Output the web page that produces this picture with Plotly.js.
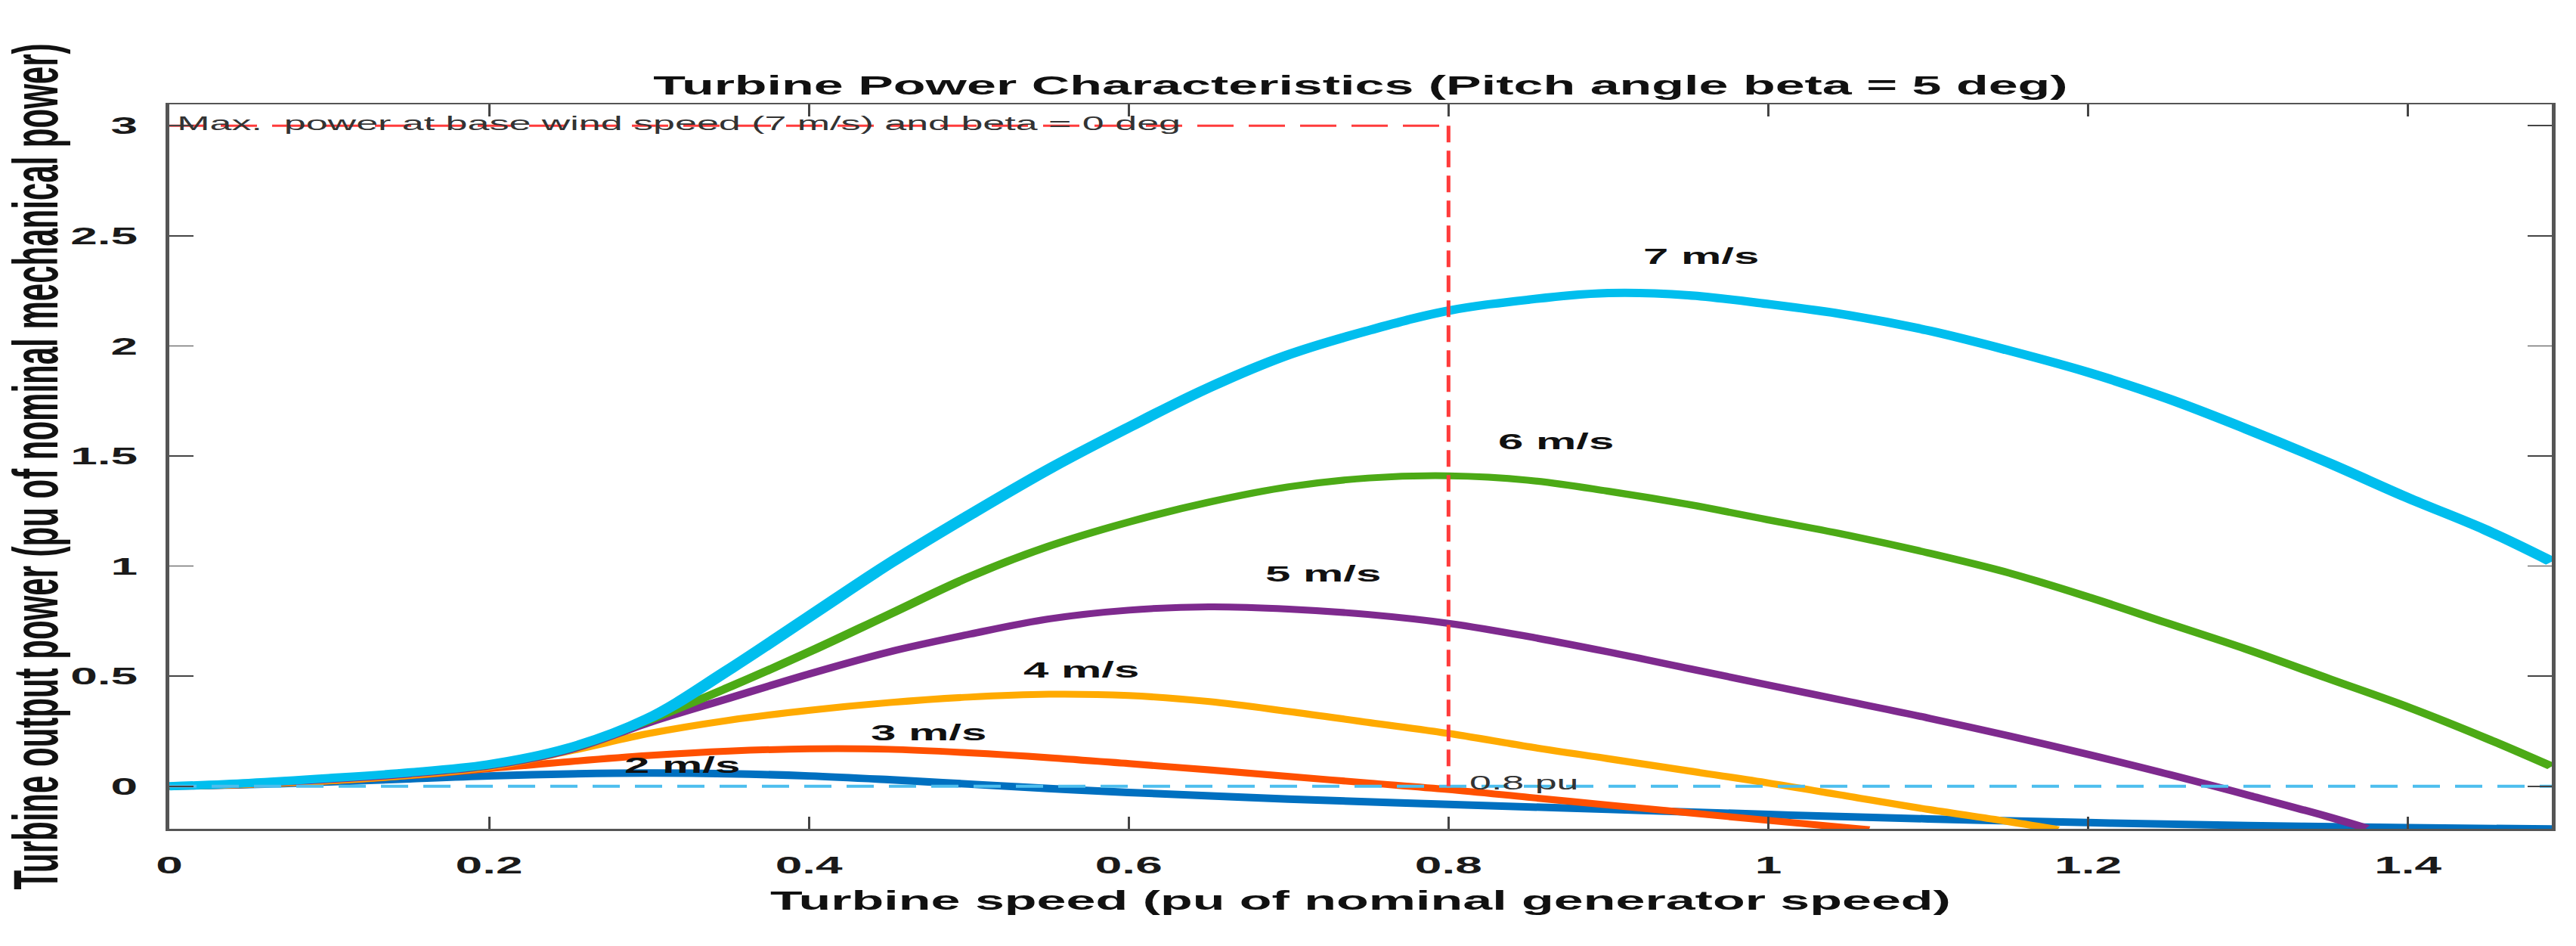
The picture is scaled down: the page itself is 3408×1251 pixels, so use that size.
<!DOCTYPE html>
<html>
<head>
<meta charset="utf-8">
<script src="https://cdn.plot.ly/plotly-3.0.1.min.js"></script>
<style>
  html, body { margin: 0; padding: 0; background: #ffffff; overflow: hidden; }
  #wrap { width: 3408px; height: 1251px; overflow: hidden; }
  /* The reference figure is stretched 2x horizontally; reproduce that by drawing at half width and scaling */
  #chart { width: 1704px; height: 1251px; transform: scaleX(2); transform-origin: 0 0; }
</style>
</head>
<body>
<div id="wrap"><div id="chart"></div></div>
<script>
// ---- Data ----
const windLabels = ['2 m/s', '3 m/s', '4 m/s', '5 m/s', '6 m/s', '7 m/s'];

const speed2 = [0, 0.05, 0.1, 0.15, 0.2, 0.25, 0.3, 0.35, 0.4, 0.45, 0.5, 0.55, 0.6, 0.7, 0.8, 0.9, 1.0, 1.1, 1.2, 1.3, 1.4, 1.49];
const power2 = [0, 0.008, 0.02, 0.034, 0.047, 0.056, 0.06, 0.057, 0.047, 0.03, 0.01, -0.01, -0.028, -0.058, -0.082, -0.105, -0.128, -0.148, -0.165, -0.178, -0.188, -0.194];

const speed3 = [0, 0.05, 0.1, 0.15, 0.2, 0.25, 0.3, 0.35, 0.4, 0.45, 0.5, 0.55, 0.6, 0.65, 0.7, 0.75, 0.8, 0.85, 0.9, 0.95, 1.0, 1.063];
const power3 = [0, 0.008, 0.024, 0.048, 0.08, 0.112, 0.14, 0.16, 0.17, 0.168, 0.152, 0.13, 0.103, 0.075, 0.045, 0.015, -0.015, -0.05, -0.085, -0.12, -0.155, -0.197];

const speed4 = [0, 0.05, 0.1, 0.15, 0.2, 0.25, 0.3, 0.35, 0.4, 0.45, 0.5, 0.55, 0.6, 0.65, 0.7, 0.75, 0.8, 0.85, 0.9, 0.95, 1.0, 1.05, 1.1, 1.15, 1.181];
const power4 = [0, 0.01, 0.025, 0.05, 0.088, 0.16, 0.24, 0.3, 0.345, 0.38, 0.405, 0.418, 0.412, 0.385, 0.34, 0.29, 0.24, 0.18, 0.125, 0.07, 0.015, -0.045, -0.105, -0.16, -0.197];

const speed5 = [0, 0.05, 0.1, 0.15, 0.2, 0.25, 0.3, 0.35, 0.4, 0.45, 0.5, 0.55, 0.6, 0.65, 0.7, 0.75, 0.8, 0.85, 0.9, 0.95, 1.0, 1.05, 1.1, 1.15, 1.2, 1.25, 1.3, 1.35, 1.374];
const power5 = [0, 0.012, 0.03, 0.055, 0.092, 0.165, 0.29, 0.4, 0.51, 0.61, 0.69, 0.76, 0.8, 0.815, 0.805, 0.78, 0.74, 0.68, 0.61, 0.535, 0.46, 0.385, 0.31, 0.23, 0.145, 0.055, -0.04, -0.138, -0.19];

const speed6 = [0, 0.05, 0.1, 0.15, 0.2, 0.25, 0.3, 0.35, 0.4, 0.45, 0.5, 0.55, 0.6, 0.65, 0.7, 0.75, 0.8, 0.85, 0.9, 0.95, 1.0, 1.05, 1.1, 1.15, 1.2, 1.25, 1.3, 1.35, 1.4, 1.45, 1.49];
const power6 = [0, 0.014, 0.034, 0.06, 0.096, 0.17, 0.3, 0.45, 0.61, 0.78, 0.95, 1.09, 1.2, 1.29, 1.36, 1.4, 1.41, 1.39, 1.34, 1.28, 1.21, 1.14, 1.06, 0.97, 0.86, 0.74, 0.62, 0.49, 0.36, 0.215, 0.09];

const speed7 = [0, 0.05, 0.1, 0.15, 0.2, 0.25, 0.3, 0.35, 0.4, 0.45, 0.5, 0.55, 0.6, 0.65, 0.7, 0.75, 0.8, 0.85, 0.9, 0.95, 1.0, 1.05, 1.1, 1.15, 1.2, 1.25, 1.3, 1.35, 1.4, 1.45, 1.49];
const power7 = [0, 0.015, 0.037, 0.063, 0.1, 0.175, 0.31, 0.53, 0.77, 1.01, 1.23, 1.44, 1.63, 1.81, 1.96, 2.07, 2.16, 2.21, 2.24, 2.23, 2.19, 2.14, 2.07, 1.98, 1.88, 1.76, 1.62, 1.47, 1.31, 1.16, 1.02];

// reference lines
const maxPowerX = [0, 0.8];
const maxPowerY = [3, 3];
const baseSpeedX = [0.8, 0.8];
const baseSpeedY = [3, 0];
const zeroLineX = [0, 1.49];
const zeroLineY = [0, 0];

const xTickVals = [0, 0.2, 0.4, 0.6, 0.8, 1, 1.2, 1.4];
const yTickVals = [0, 0.5, 1, 1.5, 2, 2.5, 3];

// ---- Styles ----
const curveColors = ['#0070C0', '#FF5000', '#FFAA00', '#7E2A8E', '#4CAA16', '#00BEEE'];
const curveWidths = [10, 9, 9, 9, 9, 11];
const speeds = [speed2, speed3, speed4, speed5, speed6, speed7];
const powers = [power2, power3, power4, power5, power6, power7];

const traces = speeds.map((sx, i) => ({
  x: sx, y: powers[i], type: 'scatter', mode: 'lines', name: windLabels[i],
  line: { color: curveColors[i], width: curveWidths[i], shape: 'spline', smoothing: 1 },
  hoverinfo: 'skip'
}));

traces.push({ x: zeroLineX, y: zeroLineY, type: 'scatter', mode: 'lines',
  line: { color: '#4DBEEE', width: 4, dash: '18px,10px' }, hoverinfo: 'skip' });
traces.push({ x: maxPowerX, y: maxPowerY, type: 'scatter', mode: 'lines',
  line: { color: '#FF3B3B', width: 3, dash: '24px,10px' }, hoverinfo: 'skip' });
traces.push({ x: baseSpeedX, y: baseSpeedY, type: 'scatter', mode: 'lines',
  line: { color: '#FF3B3B', width: 2.5, dash: '22px,11px' }, hoverinfo: 'skip' });

const labelFont = { family: 'Liberation Sans, Arial, sans-serif', size: 30, color: '#111111' };
const labelPos = [
  [0.3206, 0.096], [0.475, 0.245], [0.571, 0.53], [0.722, 0.967], [0.867, 1.568], [0.958, 2.41]
];
const annotations = windLabels.map((t, i) => ({
  x: labelPos[i][0], y: labelPos[i][1], xref: 'x', yref: 'y', text: '<b>' + t + '</b>',
  showarrow: false, xanchor: 'center', yanchor: 'middle', font: labelFont
}));
annotations.push({
  x: 0.003, y: 3.01, xref: 'x', yref: 'y', xanchor: 'left', yanchor: 'middle', showarrow: false,
  text: 'Max.  power at base wind speed (7 m/s) and beta = 0 deg',
  font: { family: 'Liberation Sans, Arial, sans-serif', size: 26, color: '#333333' }
});
annotations.push({
  x: 0.811, y: 0.016, xref: 'x', yref: 'y', xanchor: 'left', yanchor: 'middle', showarrow: false,
  text: '0.8 pu',
  font: { family: 'Liberation Sans, Arial, sans-serif', size: 26, color: '#333333' }
});

const axisFont = { family: 'Liberation Sans, Arial, sans-serif', size: 32, color: '#1a1a1a', weight: 700 };

const layout = {
  width: 1704, height: 1251,
  margin: { l: 112, r: 16, t: 138, b: 155, pad: 0 },
  paper_bgcolor: '#ffffff', plot_bgcolor: '#ffffff',
  showlegend: false,
  title: {
    text: '<b>Turbine Power Characteristics (Pitch angle beta = 5 deg)</b>',
    font: { family: 'Liberation Sans, Arial, sans-serif', size: 35, color: '#111111' },
    x: 0.5, xref: 'paper', xanchor: 'center', y: 1 - 113 / 1251, yref: 'container', yanchor: 'middle'
  },
  xaxis: {
    range: [0, 1.49], tickvals: xTickVals, ticks: 'inside', ticklen: 16, tickwidth: 1.5, tickcolor: '#444',
    showline: true, linecolor: '#555', linewidth: 2.5, mirror: 'ticks', showgrid: false, zeroline: false,
    tickfont: axisFont, ticklabelstandoff: 18,
    title: { text: '<b>Turbine speed (pu of nominal generator speed)</b>', standoff: 18,
      font: { family: 'Liberation Sans, Arial, sans-serif', size: 35, color: '#111111' } }
  },
  yaxis: {
    range: [-0.193, 3.097], tickvals: yTickVals, ticks: 'inside', ticklen: 16, tickwidth: 1.5, tickcolor: '#444',
    showline: true, linecolor: '#555', linewidth: 2.5, mirror: 'ticks', showgrid: false, zeroline: false,
    tickfont: axisFont, ticklabelstandoff: 12,
    title: { text: '<b>Turbine output power (pu of nominal mechanical power)</b>', standoff: 14,
      font: { family: 'Liberation Sans, Arial, sans-serif', size: 42, color: '#111111' } }
  },
  annotations: annotations
};

Plotly.newPlot('chart', traces, layout, { staticPlot: true, displayModeBar: false });
</script>
</body>
</html>
